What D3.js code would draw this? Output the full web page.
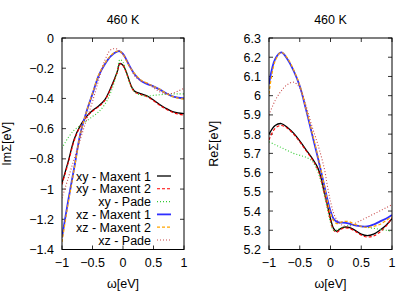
<!DOCTYPE html>
<html>
<head>
<meta charset="utf-8">
<script src="https://cdn.jsdelivr.net/npm/d3@7"></script>
<style>
  body { margin: 0; background: #fff; }
  svg text { font-family: "Liberation Sans", Arial, sans-serif; font-size: 12.5px; fill: #000; }
</style>
</head>
<body>
<div id="chart"></div>
<script>
// frequency grid (eV)
const omega = [-1, -0.9, -0.8, -0.7, -0.6, -0.5, -0.4, -0.3, -0.2, -0.1, -0.05, 0,
               0.05, 0.1, 0.15, 0.2, 0.3, 0.4, 0.5, 0.6, 0.7, 0.8, 0.9, 1];

// Im Sigma
const imXyMaxent1 = [-0.96, -0.82, -0.67, -0.58, -0.52, -0.48, -0.45, -0.41, -0.33, -0.23, -0.168, -0.18,
                     -0.22, -0.28, -0.33, -0.355, -0.37, -0.385, -0.41, -0.44, -0.465, -0.485, -0.495, -0.50];
const imXyMaxent2 = [-0.97, -0.83, -0.68, -0.585, -0.525, -0.485, -0.455, -0.415, -0.335, -0.235, -0.172, -0.183,
                     -0.225, -0.285, -0.335, -0.36, -0.375, -0.39, -0.415, -0.445, -0.47, -0.49, -0.503, -0.51];
const imXyPade = [-0.73, -0.66, -0.61, -0.58, -0.55, -0.52, -0.49, -0.44, -0.36, -0.23, -0.143, -0.16,
                  -0.22, -0.29, -0.33, -0.36, -0.38, -0.385, -0.38, -0.376, -0.373, -0.37, -0.37, -0.37];
const imXzMaxent1 = [-1.32, -1.08, -0.86, -0.635, -0.49, -0.37, -0.25, -0.175, -0.12, -0.09, -0.088, -0.105,
                     -0.14, -0.18, -0.215, -0.245, -0.285, -0.305, -0.32, -0.34, -0.365, -0.385, -0.395, -0.40];
const imXzMaxent2 = [-1.35, -1.10, -0.87, -0.64, -0.49, -0.365, -0.245, -0.17, -0.115, -0.088, -0.088, -0.108,
                     -0.145, -0.185, -0.215, -0.24, -0.28, -0.30, -0.32, -0.34, -0.365, -0.385, -0.398, -0.405];
const imXzPade = [-1.06, -0.93, -0.80, -0.67, -0.545, -0.42, -0.28, -0.15, -0.078, -0.072, -0.09, -0.11,
                  -0.14, -0.18, -0.22, -0.256, -0.285, -0.30, -0.33, -0.355, -0.368, -0.367, -0.352, -0.333];

// Re Sigma
const reXyMaxent1 = [5.80, 5.845, 5.855, 5.835, 5.805, 5.765, 5.72, 5.675, 5.62, 5.50, 5.43, 5.36,
                     5.31, 5.295, 5.305, 5.315, 5.315, 5.30, 5.28, 5.272, 5.28, 5.30, 5.325, 5.36];
const reXyMaxent2 = [5.77, 5.83, 5.845, 5.83, 5.80, 5.76, 5.715, 5.67, 5.61, 5.49, 5.42, 5.35,
                     5.30, 5.29, 5.30, 5.31, 5.31, 5.295, 5.275, 5.265, 5.27, 5.29, 5.32, 5.365];
const reXyPade = [5.76, 5.745, 5.73, 5.715, 5.70, 5.69, 5.68, 5.66, 5.60, 5.48, 5.41, 5.34,
                  5.30, 5.30, 5.31, 5.315, 5.325, 5.325, 5.32, 5.315, 5.31, 5.305, 5.30, 5.295];
const reXzMaxent1 = [6.06, 6.19, 6.225, 6.19, 6.13, 6.05, 5.93, 5.80, 5.67, 5.53, 5.46, 5.40,
                     5.36, 5.345, 5.34, 5.34, 5.335, 5.325, 5.32, 5.32, 5.33, 5.345, 5.36, 5.38];
const reXzMaxent2 = [6.01, 6.18, 6.225, 6.195, 6.135, 6.055, 5.935, 5.81, 5.68, 5.53, 5.45, 5.39,
                     5.35, 5.335, 5.34, 5.345, 5.345, 5.33, 5.32, 5.315, 5.32, 5.33, 5.35, 5.37];
const reXzPade = [5.90, 5.975, 6.025, 6.058, 6.07, 6.04, 5.95, 5.84, 5.74, 5.62, 5.53, 5.45,
                  5.39, 5.355, 5.335, 5.325, 5.32, 5.336, 5.352, 5.368, 5.384, 5.40, 5.417, 5.433];

const seriesNames = ["xy - Maxent 1", "xy - Maxent 2", "xy - Pade", "xz - Maxent 1", "xz - Maxent 2", "xz - Pade"];
const xTicks = [-1, -0.5, 0, 0.5, 1];
const imTicks = [0, -0.2, -0.4, -0.6, -0.8, -1, -1.2, -1.4];
const reTicks = [6.3, 6.2, 6.1, 6, 5.9, 5.8, 5.7, 5.6, 5.5, 5.4, 5.3, 5.2];

const styles = [
  { color: "#000000", width: 1.3, dash: null },
  { color: "#ff0000", width: 1.1, dash: "3,2" },
  { color: "#33cc33", width: 1.1, dash: "1,2" },
  { color: "#2f2fff", width: 1.8, dash: null },
  { color: "#ffa500", width: 1.2, dash: "3,2" },
  { color: "#c84a4a", width: 1.1, dash: "1,2" }
];

const width = 415, height = 291;
const svg = d3.select("#chart").append("svg")
  .attr("width", width).attr("height", height);

const panels = [
  { left: 62, right: 184, ylabel: "ImΣ[eV]", yDomain: [-1.4, 0], ticks: imTicks, fmt: d3.format("~g"),
    data: [imXyMaxent1, imXyMaxent2, imXyPade, imXzMaxent1, imXzMaxent2, imXzPade], legend: true, labelX: 11 },
  { left: 269, right: 392, ylabel: "ReΣ[eV]", yDomain: [5.2, 6.3], ticks: reTicks, fmt: d3.format("~g"),
    data: [reXyMaxent1, reXyMaxent2, reXyPade, reXzMaxent1, reXzMaxent2, reXzPade], legend: false, labelX: 218 }
];
const plotTop = 38, plotBottom = 249.5;

panels.forEach((p, pi) => {
  const x = d3.scaleLinear().domain([-1, 1]).range([p.left, p.right]);
  const y = d3.scaleLinear().domain(p.yDomain).range([plotBottom, plotTop]);
  const g = svg.append("g");

  g.append("clipPath").attr("id", "clip" + pi)
    .append("rect").attr("x", p.left).attr("y", plotTop)
    .attr("width", p.right - p.left).attr("height", plotBottom - plotTop);

  // ticks (inward, mirrored)
  const tl = 4;
  xTicks.forEach(t => {
    g.append("line").attr("x1", x(t)).attr("x2", x(t)).attr("y1", plotBottom).attr("y2", plotBottom - tl)
      .attr("stroke", "#000").attr("stroke-width", 0.8);
    g.append("line").attr("x1", x(t)).attr("x2", x(t)).attr("y1", plotTop).attr("y2", plotTop + tl)
      .attr("stroke", "#000").attr("stroke-width", 0.8);
    g.append("text").attr("x", x(t)).attr("y", plotBottom + 17).attr("text-anchor", "middle")
      .text(d3.format("~g")(t));
  });
  p.ticks.forEach(t => {
    g.append("line").attr("x1", p.left).attr("x2", p.left + tl).attr("y1", y(t)).attr("y2", y(t))
      .attr("stroke", "#000").attr("stroke-width", 0.8);
    g.append("line").attr("x1", p.right).attr("x2", p.right - tl).attr("y1", y(t)).attr("y2", y(t))
      .attr("stroke", "#000").attr("stroke-width", 0.8);
    g.append("text").attr("x", p.left - 8).attr("y", y(t) + 4.5).attr("text-anchor", "end")
      .text(p.fmt(t));
  });

  const line = d3.line()
    .x((d, i) => x(omega[i]))
    .y(d => y(d))
    .curve(d3.curveCatmullRom.alpha(0.5));

  const lines = g.append("g").attr("clip-path", `url(#clip${pi})`);
  p.data.forEach((s, si) => {
    const st = styles[si];
    lines.append("path").datum(s)
      .attr("d", line)
      .attr("fill", "none")
      .attr("stroke", st.color)
      .attr("stroke-width", st.width)
      .attr("stroke-dasharray", st.dash);
  });

  // border
  g.append("rect").attr("x", p.left).attr("y", plotTop)
    .attr("width", p.right - p.left).attr("height", plotBottom - plotTop)
    .attr("fill", "none").attr("stroke", "#000").attr("stroke-width", 1);

  // titles
  g.append("text").attr("x", (p.left + p.right) / 2).attr("y", 24).attr("text-anchor", "middle").text("460 K");
  g.append("text").attr("x", (p.left + p.right) / 2).attr("y", 288).attr("text-anchor", "middle").text("ω[eV]");
  g.append("text")
    .attr("transform", `translate(${p.labelX},${(plotTop + plotBottom) / 2}) rotate(-90)`)
    .attr("text-anchor", "middle").text(p.ylabel);

  if (p.legend) {
    const lg = g.append("g");
    seriesNames.forEach((name, i) => {
      const ly = 176 + i * 12.8;
      lg.append("text").attr("x", 151).attr("y", ly + 4.5).attr("text-anchor", "end").text(name);
      const st = styles[i];
      lg.append("line").attr("x1", 157).attr("x2", 171).attr("y1", ly).attr("y2", ly)
        .attr("stroke", st.color).attr("stroke-width", st.width)
        .attr("stroke-dasharray", st.dash);
    });
  }
});
</script>
</body>
</html>
